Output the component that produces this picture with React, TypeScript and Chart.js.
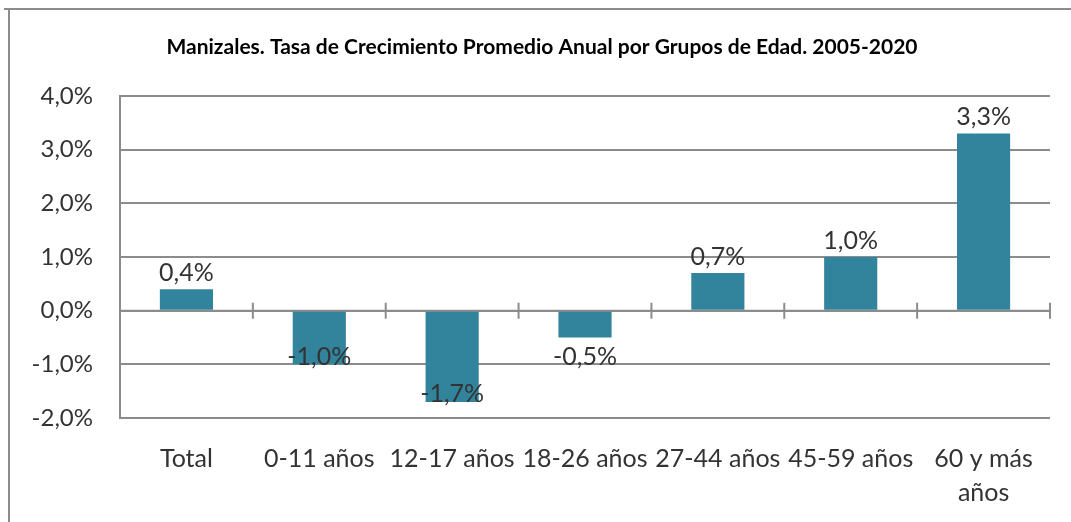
import React, { useEffect, useRef } from "react";
import { Chart, registerables } from "chart.js";

Chart.register(...registerables);

const TITLE = "Manizales. Tasa de Crecimiento Promedio Anual por Grupos de Edad. 2005-2020";
const categories: (string | string[])[] = [
  "Total",
  "0-11 años",
  "12-17 años",
  "18-26 años",
  "27-44 años",
  "45-59 años",
  ["60 y más", "años"],
];
const values = [0.4, -1.0, -1.7, -0.5, 0.7, 1.0, 3.3];
const yMin = -2;
const yMax = 4;
const yStep = 1;

const FONT = "Lato, 'Open Sans', sans-serif";
const GRID = "#8c8c8c";
const TEXT = "#333333";
const BAR = "#31849B";

const fmt = (v: number) => v.toFixed(1).replace(".", ",") + "%";

const framePlugin = {
  id: "frame",
  beforeDraw(chart: any) {
    const ctx = chart.ctx;
    ctx.save();
    ctx.fillStyle = "#ffffff";
    ctx.fillRect(0, 0, chart.width, chart.height);
    ctx.strokeStyle = GRID;
    ctx.lineWidth = 2;
    ctx.beginPath();
    ctx.moveTo(4, 9);
    ctx.lineTo(chart.width, 9);
    ctx.moveTo(9, 9);
    ctx.lineTo(9, chart.height);
    ctx.stroke();
    ctx.fillStyle = "#000000";
    ctx.font = `bold 21px ${FONT}`;
    ctx.textAlign = "center";
    ctx.textBaseline = "middle";
    ctx.fillText(TITLE, 542, 47);
    ctx.restore();
  },
};

const zeroTicksPlugin = {
  id: "zeroTicks",
  beforeDatasetsDraw(chart: any) {
    const ctx = chart.ctx;
    const x = chart.scales.x;
    const y = chart.scales.y;
    const y0 = y.getPixelForValue(0);
    ctx.save();
    ctx.strokeStyle = GRID;
    ctx.lineWidth = 2;
    ctx.beginPath();
    ctx.moveTo(chart.chartArea.left, y0);
    ctx.lineTo(chart.chartArea.right, y0);
    for (let i = 0; i < categories.length; i++) {
      const px = x.getPixelForValue(i) + (x.getPixelForValue(1) - x.getPixelForValue(0)) / 2;
      ctx.moveTo(px, y0 - 8);
      ctx.lineTo(px, y0 + 8);
    }
    ctx.stroke();
    ctx.restore();
  },
};

const labelsPlugin = {
  id: "barLabels",
  afterDatasetsDraw(chart: any) {
    const ctx = chart.ctx;
    const y = chart.scales.y;
    const meta = chart.getDatasetMeta(0);
    ctx.save();
    ctx.font = `25px ${FONT}`;
    ctx.fillStyle = TEXT;
    ctx.textAlign = "center";
    ctx.textBaseline = "bottom";
    meta.data.forEach((bar: any, i: number) => {
      const v = values[i];
      const yEnd = y.getPixelForValue(v);
      let ty;
      if (v >= 0) ty = yEnd - 4;
      else ty = Math.max(yEnd, y.getPixelForValue(-1)) + 5;
      ctx.fillText(fmt(v), bar.x, ty);
    });
    ctx.restore();
  },
};

export default function App() {
  const ref = useRef<HTMLCanvasElement>(null);
  useEffect(() => {
    if (!ref.current) return;
    const chart = new Chart(ref.current, {
      type: "bar",
      data: {
        labels: categories as any,
        datasets: [
          {
            data: values,
            backgroundColor: BAR,
            barPercentage: 0.4,
            categoryPercentage: 1,
          },
        ],
      },
      options: {
        responsive: false,
        animation: false,
        layout: { padding: { top: 96, right: 21, left: 0, bottom: 0 } },
        plugins: {
          legend: { display: false },
          title: { display: false },
          tooltip: { enabled: false },
        },
        scales: {
          x: {
            grid: { display: false },
            border: { display: false },
            ticks: {
              color: TEXT,
              font: { family: FONT, size: 25, lineHeight: 1.36 },
              padding: 16,
              maxRotation: 0,
              autoSkip: false,
            },
            afterFit(scale: any) {
              scale.height = 104;
            },
          },
          y: {
            min: yMin,
            max: yMax,
            ticks: {
              stepSize: yStep,
              color: TEXT,
              font: { family: FONT, size: 24 },
              padding: 27,
              callback: (v: any) => fmt(Number(v)),
            },
            grid: { color: GRID, lineWidth: 2, drawTicks: false },
            border: { display: true, color: GRID, width: 2 },
            afterFit(scale: any) {
              scale.width = 120;
            },
          },
        },
      },
      plugins: [framePlugin, zeroTicksPlugin, labelsPlugin],
    });
    return () => chart.destroy();
  }, []);
  return (
    <div style={{ position: "absolute", left: 0, top: 0, width: 1071, height: 522 }}>
      <canvas ref={ref} width={1071} height={522} />
    </div>
  );
}
